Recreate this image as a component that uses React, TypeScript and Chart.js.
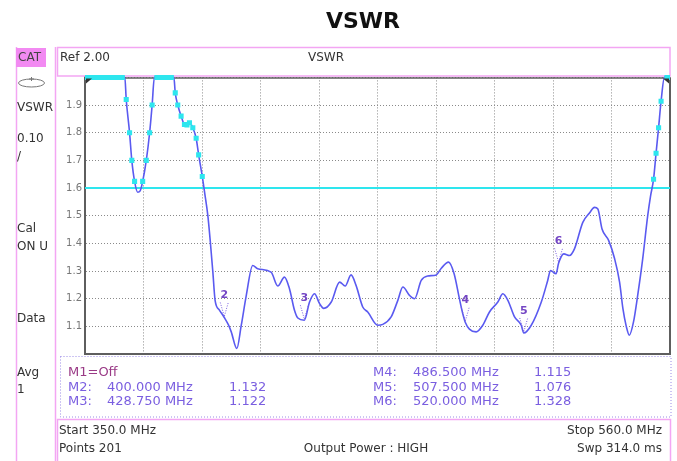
import React, { useEffect, useRef } from 'react';
import { Chart, registerables } from 'chart.js';

Chart.register(...registerables);

// ---- data ----
const freqMHz = [
  350, 355, 360, 364.3, 364.8, 366.0, 366.8, 367.8, 368.9, 369.8,
  370.7, 372.0, 373.2, 374.1, 374.9, 378.0, 381.9, 382.4, 383.3, 384.5,
  385.7, 386.6, 387.5, 388.7, 389.9, 390.8, 392.1, 393.0, 394.1, 395.0,
  395.9, 396.7, 398.3, 400.0, 401.5, 402.5, 404.5, 406.1, 407.9, 410.2,
  412.0, 416.8, 419.2, 421.6, 423.4, 425.2, 426.4, 428.75, 430.6, 432.4,
  434.2, 435.7, 438.4, 441.4, 443.4, 445.5, 447.3, 449.7, 451.5, 455.1,
  456.9, 459.9, 462.3, 464.1, 466.5, 468.3, 470.7, 473.0, 476.1, 477.9,
  480.5, 482.5, 484.4, 485.6, 486.5, 488.0, 490.4, 492.8, 495.2, 498.2,
  500.0, 501.8, 504.2, 506.6, 507.5, 510.2, 513.8, 516.1, 517.1, 519.1,
  520.0, 521.9, 523.9, 525.7, 528.7, 531.1, 532.9, 534.1, 535.6, 538.0,
  540.1, 541.9, 543.1, 544.3, 545.4, 546.9, 548.4, 550.2, 552.0, 553.0,
  554.1, 555.0, 555.9, 556.8, 558.0, 560,
];
const vswr = [
  2.0, 2.0, 2.0, 2.0, 1.92, 1.80, 1.70, 1.624, 1.585, 1.59,
  1.624, 1.70, 1.80, 1.90, 2.0, 2.0, 2.0, 1.944, 1.90, 1.86,
  1.83, 1.828, 1.836, 1.818, 1.78, 1.72, 1.642, 1.58, 1.50, 1.404,
  1.296, 1.194, 1.158, 1.132, 1.105, 1.08, 1.02, 1.104, 1.212, 1.32,
  1.308, 1.296, 1.246, 1.278, 1.236, 1.158, 1.13, 1.122, 1.188, 1.218,
  1.182, 1.165, 1.188, 1.26, 1.246, 1.286, 1.248, 1.17, 1.152, 1.104,
  1.107, 1.134, 1.194, 1.242, 1.212, 1.20, 1.266, 1.282, 1.286, 1.31,
  1.332, 1.29, 1.20, 1.146, 1.115, 1.09, 1.08, 1.104, 1.152, 1.188,
  1.218, 1.194, 1.134, 1.104, 1.076, 1.104, 1.188, 1.266, 1.302, 1.29,
  1.328, 1.362, 1.356, 1.38, 1.476, 1.51, 1.53, 1.524, 1.452, 1.41,
  1.345, 1.26, 1.164, 1.10, 1.068, 1.116, 1.212, 1.344, 1.50, 1.57,
  1.632, 1.726, 1.818, 1.914, 2.0, 2.0,
];
const markerNames = ['M2', 'M3', 'M4', 'M5', 'M6'];
const markerNumbers = ['2', '3', '4', '5', '6'];
const markerFreqMHz = [400.0, 428.75, 486.5, 507.5, 520.0];
const markerVswr = [1.132, 1.122, 1.115, 1.076, 1.328];
const limitVswr = 1.6;
const startMHz = 350;
const stopMHz = 560;
const refVswr = 2.0;
const minVswr = 1.0;
const yStep = 0.1;
const xStep = 21;
const sideLabels = ['VSWR', '0.10', '/', 'Cal', 'ON U', 'Data', 'Avg', '1'];
const footerLeft = ['Start 350.0 MHz', 'Points 201'];
const footerRight = ['Stop 560.0 MHz', 'Swp 314.0 ms'];
const footerCenter = 'Output Power : HIGH';

// ---- styles ----
const FONT = "'DejaVu Sans', sans-serif";
const PINK = '#f3a6f3';
const PINK_FILL = '#f28af2';
const TRACE = '#5a5af0';
const CYAN = '#2ee6ee';
const MARK = '#7a5ee0';
const MARK_LBL = '#7446c4';
const FRAME = '#5e5e5e';

const decorPlugin = {
  id: 'decor',
  beforeDraw(chart: any) {
    const ctx = chart.ctx;
    ctx.save();
    ctx.fillStyle = '#ffffff';
    ctx.fillRect(0, 0, chart.width, chart.height);
    ctx.restore();
  },
  beforeDatasetsDraw(chart: any) {
    const ctx: CanvasRenderingContext2D = chart.ctx;
    const ca = chart.chartArea;
    ctx.save();
    // top header box
    ctx.strokeStyle = PINK;
    ctx.lineWidth = 1.5;
    ctx.strokeRect(57.5, 47.5, 670 - 57.5, 76 - 47.5);
    // plot frame: top & right
    ctx.strokeStyle = FRAME;
    ctx.lineWidth = 1.5;
    ctx.beginPath();
    ctx.moveTo(ca.left, ca.top + 0.5); ctx.lineTo(ca.right, ca.top + 0.5);
    ctx.stroke();
    ctx.lineWidth = 2;
    ctx.beginPath();
    ctx.moveTo(ca.right, ca.top); ctx.lineTo(ca.right, ca.bottom + 1);
    ctx.stroke();
    ctx.restore();
  },
  afterDraw(chart: any) {
    const ctx: CanvasRenderingContext2D = chart.ctx;
    const ca = chart.chartArea;
    const xs = chart.scales.x;
    const ys = chart.scales.y;
    ctx.save();

    // left column lines
    ctx.strokeStyle = PINK;
    ctx.lineWidth = 1.5;
    ctx.beginPath();
    ctx.moveTo(16.5, 47); ctx.lineTo(16.5, 461);
    ctx.moveTo(55.5, 47); ctx.lineTo(55.5, 461);
    ctx.stroke();

    // footer box
    ctx.beginPath();
    ctx.moveTo(57.5, 461); ctx.lineTo(57.5, 419.5); ctx.lineTo(670.5, 419.5); ctx.lineTo(670.5, 461);
    ctx.stroke();

    // CAT tab
    ctx.fillStyle = PINK_FILL;
    ctx.fillRect(16, 48, 30, 19);
    ctx.fillStyle = '#444';
    ctx.font = `12px ${FONT}`;
    ctx.textBaseline = 'middle';
    ctx.textAlign = 'left';
    ctx.fillText('CAT', 18, 58);

    // icon
    ctx.strokeStyle = '#777';
    ctx.lineWidth = 1;
    ctx.beginPath();
    ctx.ellipse(31.5, 83, 13, 4, 0, 0, Math.PI * 2);
    ctx.stroke();
    ctx.beginPath();
    ctx.moveTo(31.5, 77); ctx.lineTo(31.5, 81);
    ctx.moveTo(29, 79); ctx.lineTo(34, 79);
    ctx.stroke();

    // side labels
    ctx.fillStyle = '#333';
    const sideY = [108, 139, 157, 229, 247, 319, 373, 390];
    sideLabels.forEach((t, i) => ctx.fillText(t, 17, sideY[i]));

    // header text
    ctx.fillText('Ref ' + refVswr.toFixed(2), 60, 58);
    ctx.textAlign = 'center';
    ctx.fillText('VSWR', 326, 58);

    // corner triangles
    ctx.fillStyle = '#333';
    ctx.beginPath();
    ctx.moveTo(ca.left + 1, ca.top + 1); ctx.lineTo(ca.left + 7, ca.top + 1); ctx.lineTo(ca.left + 1, ca.top + 6);
    ctx.closePath(); ctx.fill();
    ctx.beginPath();
    ctx.moveTo(ca.right - 1, ca.top + 1); ctx.lineTo(ca.right - 7, ca.top + 1); ctx.lineTo(ca.right - 1, ca.top + 6);
    ctx.closePath(); ctx.fill();

    // markers
    markerFreqMHz.forEach((f, i) => {
      const px = xs.getPixelForValue(f);
      const py = ys.getPixelForValue(markerVswr[i]);
      ctx.strokeStyle = MARK;
      ctx.lineWidth = 1;
      ctx.setLineDash([1, 1.5]);
      ctx.beginPath();
      ctx.moveTo(px - 4, py - 15); ctx.lineTo(px, py - 1); ctx.lineTo(px + 4, py - 15);
      ctx.stroke();
      ctx.setLineDash([]);
      ctx.fillStyle = MARK_LBL;
      ctx.font = `bold 11px ${FONT}`;
      ctx.textAlign = 'center';
      ctx.fillText(markerNumbers[i], px, py - 22);
    });

    // marker table box
    ctx.strokeStyle = '#9a8ae6';
    ctx.lineWidth = 1;
    ctx.setLineDash([1, 2]);
    ctx.strokeRect(60.5, 356.5, 671 - 60.5, 417 - 356.5);
    ctx.setLineDash([]);

    ctx.font = `13px ${FONT}`;
    ctx.textAlign = 'left';
    ctx.fillStyle = '#9a3a86';
    ctx.fillText('M1=Off', 68, 373);
    const rowsY = [388, 402, 373, 388, 402];
    markerNames.forEach((n, i) => {
      const left = i < 2;
      const y = rowsY[i];
      const x0 = left ? 68 : 373;
      const x1 = left ? 107 : 413;
      const x2 = left ? 229 : 534;
      ctx.fillStyle = MARK;
      ctx.fillText(n + ':', x0, y);
      ctx.fillText(markerFreqMHz[i].toFixed(3) + ' MHz', x1, y);
      ctx.fillText(markerVswr[i].toFixed(3), x2, y);
    });

    // footer
    ctx.font = `12px ${FONT}`;
    ctx.fillStyle = '#333';
    ctx.textAlign = 'left';
    ctx.fillText(footerLeft[0], 59, 431);
    ctx.fillText(footerLeft[1], 59, 449);
    ctx.textAlign = 'right';
    ctx.fillText(footerRight[0], 662, 431);
    ctx.fillText(footerRight[1], 662, 449);
    ctx.textAlign = 'center';
    ctx.fillText(footerCenter, 366, 449);

    ctx.restore();
  },
};

export default function App() {
  const ref = useRef<HTMLCanvasElement | null>(null);

  useEffect(() => {
    if (!ref.current) return;
    const points = freqMHz.map((f, i) => ({ x: f, y: vswr[i] }));
    // readings pinned at the reference level (off-scale) shown as a bar
    const clipped = freqMHz.map((f, i) => ({ x: f, y: vswr[i] >= refVswr - 1e-9 ? refVswr : null }));
    const chart = new Chart(ref.current, {
      type: 'line',
      data: {
        datasets: [
          {
            label: 'Off-scale',
            data: clipped,
            borderColor: CYAN,
            borderWidth: 5,
            spanGaps: false,
            pointRadius: 0,
            clip: false,
          } as any,
          {
            label: 'VSWR',
            data: points,
            borderColor: TRACE,
            borderWidth: 1.6,
            cubicInterpolationMode: 'monotone',
            clip: 10,
            pointStyle: 'rect',
            pointRadius: (c: any) => {
              const v = c.raw ? c.raw.y : 0;
              return v > limitVswr && v < refVswr ? 3.6 : 0;
            },
            pointBackgroundColor: CYAN,
            pointBorderColor: CYAN,
            pointBorderWidth: 0,
          } as any,
          {
            label: 'Limit',
            data: [
              { x: startMHz, y: limitVswr },
              { x: stopMHz, y: limitVswr },
            ],
            borderColor: CYAN,
            borderWidth: 2,
            pointRadius: 0,
          },
        ],
      },
      options: {
        responsive: false,
        animation: false,
        devicePixelRatio: 1,
        layout: { padding: { left: 56, right: 7, top: 0, bottom: 107 } },
        plugins: {
          legend: { display: false },
          tooltip: { enabled: false },
          title: {
            display: true,
            text: 'VSWR',
            color: '#111',
            font: { family: FONT, size: 22, weight: 'bold' },
            padding: { top: 9, bottom: 42 },
          },
        },
        scales: {
          x: {
            type: 'linear',
            min: startMHz,
            max: stopMHz,
            ticks: { display: false, stepSize: xStep },
            grid: { color: '#8a8a8a', lineWidth: 1, drawTicks: false },
            border: { display: true, color: FRAME, width: 2, dash: [1, 2] },
            afterFit: (s: any) => { s.height = 0; },
          },
          y: {
            type: 'linear',
            min: minVswr,
            max: refVswr,
            ticks: {
              stepSize: yStep,
              color: '#777',
              padding: 3,
              font: { family: FONT, size: 10 },
              callback: (v: any) => {
                const n = Number(v);
                if (n <= minVswr + 1e-6 || n >= refVswr - 1e-6) return '';
                return n.toFixed(1);
              },
            },
            grid: { color: '#8a8a8a', lineWidth: 1, drawTicks: false },
            border: { display: true, color: FRAME, width: 2, dash: [1, 2] },
            afterFit: (s: any) => { s.width = 29; },
          },
        },
      } as any,
      plugins: [decorPlugin],
    });
    return () => chart.destroy();
  }, []);

  return (
    <div style={{ position: 'absolute', left: 0, top: 0, width: 677, height: 461 }}>
      <canvas ref={ref} width={677} height={461} />
    </div>
  );
}
